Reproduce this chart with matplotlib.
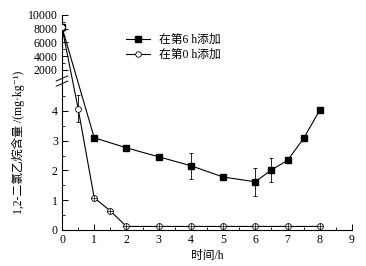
import numpy as np
import matplotlib
matplotlib.use("Agg")
import matplotlib.pyplot as plt
from matplotlib.ticker import FixedLocator, FixedFormatter
from matplotlib.lines import Line2D

# ---- data ----
x6 = [0, 1, 2, 3, 4, 5, 6, 6.5, 7, 7.5, 8]
y6 = [8200, 3.10, 2.76, 2.46, 2.16, 1.78, 1.62, 2.02, 2.34, 3.08, 4.03]
e6 = [500, 0, 0, 0, 0.43, 0, 0.48, 0.40, 0, 0, 0]

x0 = [0, 0.5, 1, 1.5, 2, 3, 4, 5, 6, 7, 8]
y0 = [8200, 4.08, 1.08, 0.64, 0.12, 0.12, 0.12, 0.12, 0.12, 0.12, 0.12]
e0 = [0, 0.45, 0, 0, 0, 0, 0, 0, 0, 0, 0]

label6 = "在第6 h添加"
label0 = "在第0 h添加"
xlabel = "时间/h"
ylabel = "1,2-二氯乙烷含量 /(mg·kg⁻¹)"

yticks_major = [0, 1, 2, 3, 4, 2000, 4000, 6000, 8000, 10000]
yticks_minor = [0.5, 1.5, 2.5, 3.5, 4.5, 3000, 5000, 7000, 9000]

# ---- broken scale ----
LOW = 5.0
HIGH = 400.0
EPS = 0.01
K = 0.0002307

def fwd(v):
    v = np.asarray(v, dtype=float)
    mid = LOW + (v - LOW) / (HIGH - LOW) * EPS
    top = LOW + EPS + (v - HIGH) * K
    return np.where(v <= LOW, v, np.where(v <= HIGH, mid, top))

def inv(u):
    u = np.asarray(u, dtype=float)
    mid = LOW + (u - LOW) / EPS * (HIGH - LOW)
    top = HIGH + (u - LOW - EPS) / K
    return np.where(u <= LOW, u, np.where(u <= LOW + EPS, mid, top))

serif = ['Liberation Serif', 'Noto Sans CJK SC', 'DejaVu Serif', 'DejaVu Sans']
plt.rcParams['font.family'] = serif

fig = plt.figure(figsize=(3.66, 2.66), dpi=100)
ax = fig.add_axes([62/366, 36/266, 290/366, 215/266])
ax.set_yscale('function', functions=(fwd, inv))
ax.set_xlim(0, 9)
ax.set_ylim(0, 10000)

lw = 0.8
ax.errorbar(x6, y6, yerr=e6, color='black', lw=lw, marker='s', ms=4.5,
            mfc='black', mec='black', elinewidth=0.6, capsize=1.5, capthick=0.6,
            zorder=3)
ax.errorbar(x0, y0, yerr=e0, color='black', lw=lw, marker='o', ms=4.2,
            mfc='white', mec='black', mew=0.6, elinewidth=0.6, capsize=1.5,
            capthick=0.6, zorder=3)
ax.plot(x0[2:], y0[2:], linestyle='none', marker='+', ms=4.2, mew=0.5,
        color='black', zorder=4)

for s in ['top', 'right']:
    ax.spines[s].set_visible(False)
for s in ['left', 'bottom']:
    ax.spines[s].set_linewidth(0.8)

ax.set_xticks(range(0, 10))
ax.set_xticks(np.arange(0.5, 9, 1.0), minor=True)
ax.yaxis.set_major_locator(FixedLocator(yticks_major))
ax.yaxis.set_major_formatter(FixedFormatter([str(t) for t in yticks_major]))
ax.yaxis.set_minor_locator(FixedLocator(yticks_minor))
ax.tick_params(which='major', direction='in', length=4, width=0.7,
               labelsize=8.5, pad=3)
ax.tick_params(which='minor', direction='in', length=2, width=0.6)

for lab in ax.get_xticklabels() + ax.get_yticklabels():
    lab.set_fontfamily(serif)

# break marks on left spine
yb_axes = (LOW + EPS / 2) / float(fwd(10000))
d = 0.012
for off in (-0.012, 0.012):
    ax.plot([-0.02, 0.02], [yb_axes + off - d, yb_axes + off + d],
            transform=ax.transAxes, color='black', lw=0.7, clip_on=False,
            zorder=5)

ax.set_xlabel(xlabel, fontsize=8.5, labelpad=3)
fig.text(18/366, 1 - 142/266, ylabel, rotation=90, ha='center', va='center',
         fontsize=8.5, family=serif)

handles = [
    Line2D([], [], color='black', lw=lw, marker='s', ms=4, mfc='black'),
    Line2D([], [], color='black', lw=lw, marker='o', ms=4, mfc='white',
           mew=0.6),
]
leg = ax.legend(handles, [label6, label0], loc='upper left',
                bbox_to_anchor=(58/290, 1 - 13/215), frameon=False,
                fontsize=8.5, handlelength=2.0, handletextpad=0.8,
                labelspacing=0.25, borderpad=0)

fig.savefig('out.png', dpi=100)
